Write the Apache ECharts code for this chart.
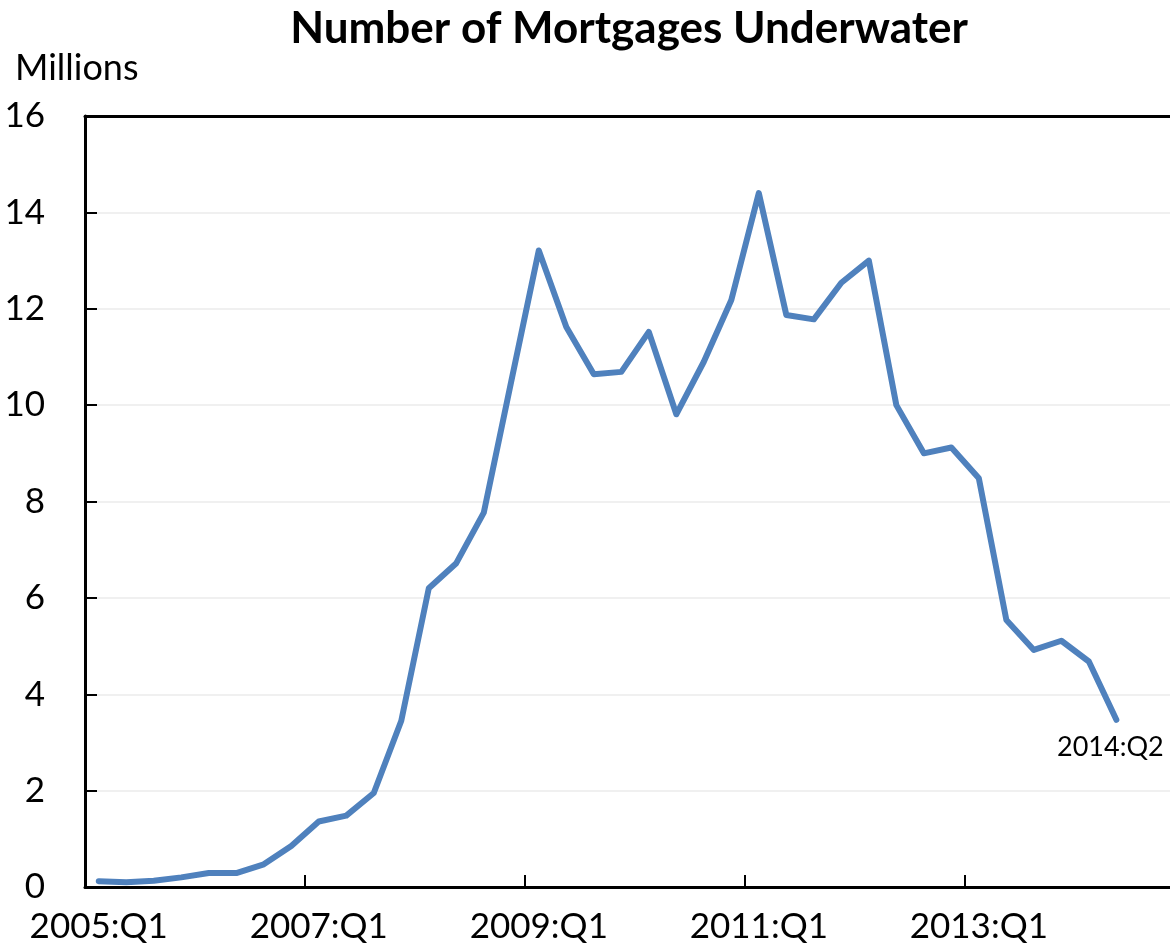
<!DOCTYPE html>
<html>
<head>
<meta charset="utf-8">
<script src="https://cdn.jsdelivr.net/npm/echarts@6/dist/echarts.min.js"></script>
<style>
  html, body { margin: 0; padding: 0; background: #fff; }
  #chart { width: 1170px; height: 944px; }
</style>
</head>
<body>
<div id="chart"></div>
<script>
// quarterly, 2005:Q1 .. 2014:Q2
const startYear = 2005;
const underwater = [
  0.12, 0.10, 0.13, 0.20, 0.29, 0.29, 0.47, 0.85, 1.36, 1.48,
  1.95, 3.45, 6.20, 6.72, 7.77, 10.5, 13.21, 11.62, 10.64, 10.69,
  11.52, 9.81, 10.9, 12.18, 14.4, 11.87, 11.78, 12.54, 13.0, 10.0,
  9.0, 9.12, 8.48, 5.54, 4.92, 5.11, 4.68, 3.47
];
const lastLabel = "2014:Q2";
const yTicks = [0, 2, 4, 6, 8, 10, 12, 14, 16];

const font = "Lato";

// points sit in the middle of each quarter, ticks on quarter boundaries
const points = underwater.map((v, i) => [i + 0.5, v]);

function quarterLabel(v) {
  const q = Math.round(v);
  return (startYear + Math.floor(q / 4)) + ":Q" + (q % 4 + 1);
}

const chart = echarts.init(document.getElementById("chart"));

chart.setOption({
  animation: false,
  textStyle: { fontFamily: font },
  title: {
    text: "Number of Mortgages Underwater",
    left: 624,
    textAlign: "center",
    top: 2,
    textStyle: { fontFamily: font, fontSize: 44, fontWeight: "bold", color: "#000" }
  },
  graphic: [{
    type: "text",
    left: 15,
    top: 50,
    style: { text: "Millions", fontFamily: font, fontSize: 36, fill: "#000" }
  }],
  grid: { left: 85, right: 0, top: 116, bottom: 57 },
  xAxis: [{
    type: "value",
    min: 0,
    max: 39.45,
    interval: 8,
    splitLine: { show: false },
    axisLine: { show: true, lineStyle: { color: "#000", width: 3 } },
    axisTick: { show: true, inside: true, length: 12, lineStyle: { color: "#000", width: 2 } },
    axisLabel: {
      fontSize: 35, color: "#000", margin: 22,
      // label centred on the quarter, not on the boundary tick
      padding: [0, 0, 0, 27.5],
      formatter: quarterLabel,
      showMaxLabel: false
    }
  }, {
    type: "value",
    position: "top",
    min: 0,
    max: 39.45,
    axisLine: { show: true, lineStyle: { color: "#000", width: 3 } },
    axisTick: { show: false },
    axisLabel: { show: false },
    splitLine: { show: false }
  }],
  yAxis: {
    type: "value",
    min: yTicks[0],
    max: yTicks[yTicks.length - 1],
    interval: 2,
    axisLine: { show: true, lineStyle: { color: "#000", width: 3 } },
    axisTick: { show: true, inside: true, length: 12, lineStyle: { color: "#000", width: 2 } },
    axisLabel: { fontSize: 35, color: "#000", margin: 40 },
    splitLine: { show: true, lineStyle: { color: "#ebebeb", width: 1.5 } }
  },
  series: [{
    type: "line",
    data: points,
    xAxisIndex: 0,
    symbol: "none",
    lineStyle: { color: "#4f81bd", width: 6, cap: "round", join: "round" },
    markPoint: {
      symbol: "circle",
      symbolSize: 0,
      data: [{ coord: points[points.length - 1], value: lastLabel }],
      label: {
        show: true,
        formatter: lastLabel,
        position: "bottom",
        distance: 14,
        offset: [-6, 0],
        fontFamily: font,
        fontSize: 27,
        color: "#000"
      }
    }
  }]
});
</script>
</body>
</html>
